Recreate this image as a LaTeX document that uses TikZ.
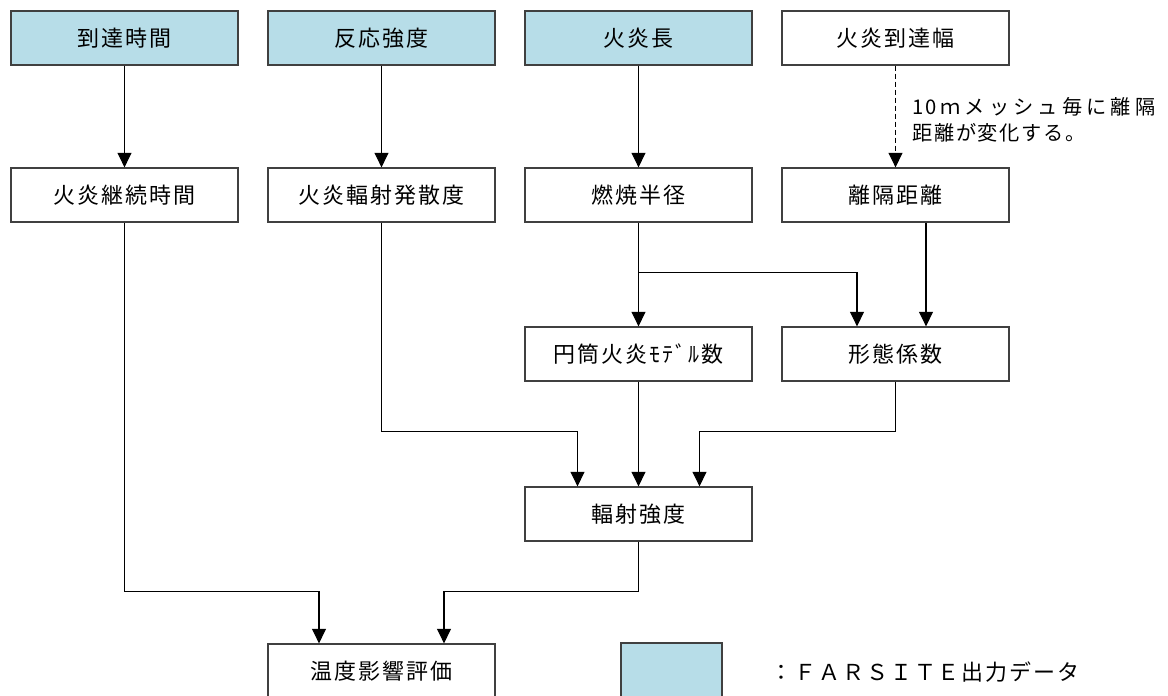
\documentclass[tikz,border=0pt]{standalone}
\usepackage{fontspec}
\usepackage{tikz}
\usetikzlibrary{arrows.meta,calc,positioning}
\newfontfamily\jpfont[LetterSpace=9]{Noto Sans CJK JP}
\newfontfamily\jpnote[LetterSpace=8]{Noto Sans CJK JP}
\definecolor{farsite}{RGB}{183,221,232}
\definecolor{rand}{RGB}{64,64,64}

\begin{document}
\begin{tikzpicture}[
  font=\jpfont\fontsize{12.5pt}{15pt}\selectfont,
  kasten/.style={draw=rand, line width=0.75pt, minimum width=4.54cm,
                 minimum height=1.08cm, inner sep=0pt},
  daten/.style={kasten, fill=farsite},
  pfeil/.style={-{Triangle[length=2.9mm, width=2.8mm]}, line width=0.6pt},
  strich/.style={pfeil, dash pattern=on 1mm off 0.6mm}
]
\useasboundingbox (0,0) rectangle (23.36,13.9);

% ---------- Eingangsdaten (oben) ---------------------------------
\node[daten]  (ankunft)  at (2.49,13.14)  {到達時間};
\node[daten]  (reaktion) at (7.63,13.14)  {反応強度};
\node[daten]  (flamme)   at (12.77,13.14) {火炎長};
\node[kasten] (breite)   at (17.91,13.14) {火炎到達幅};

% ---------- zweite Reihe -----------------------------------------
\node[kasten] (dauer)   at (2.49,10.0)  {火炎継続時間};
\node[kasten] (strahl)  at (7.63,10.0)  {火炎輻射発散度};
\node[kasten] (radius)  at (12.77,10.0) {燃焼半径};
\node[kasten] (abstand) at (17.91,10.0) {離隔距離};

\draw[pfeil]  (ankunft)  -- (dauer);
\draw[pfeil]  (reaktion) -- (strahl);
\draw[pfeil]  (flamme)   -- (radius);
\draw[strich] (breite)   -- (abstand);

\node[anchor=west, inner sep=0pt, align=left,
      font=\jpnote\fontsize{11.5pt}{14.8pt}\selectfont] (hinweis) at (18.24,11.5)
  {\makebox[4.86cm][s]{10\hfill ｍ\hfill メ\hfill ッ\hfill シ\hfill ュ\hfill 毎\hfill に\hfill 離\hfill 隔}\\
   距離が変化する。};

% ---------- dritte Reihe -----------------------------------------
\node[kasten] (zylinder) at (12.77,6.82) {円筒火炎ﾓﾃﾞﾙ数};
\node[kasten] (form)     at (17.91,6.82) {形態係数};

\draw[pfeil] (radius) -- (zylinder);
\draw[pfeil] ([yshift=1.08cm]zylinder.north) -| ([xshift=-0.77cm]form.north);
\draw[pfeil] ([xshift=0.61cm]abstand.south) -- ([xshift=0.61cm]form.north);

% ---------- Strahlungsintensitaet --------------------------------
\node[kasten] (intens) at (12.77,3.62) {輻射強度};

\draw[pfeil] (strahl.south) |- ([xshift=-1.22cm, yshift=1.1cm]intens.north)
  -- ([xshift=-1.22cm]intens.north);
\draw[pfeil] (zylinder) -- (intens);
\draw[pfeil] (form.south) |- ([xshift=1.22cm, yshift=1.1cm]intens.north)
  -- ([xshift=1.22cm]intens.north);

% ---------- Bewertung und Legende --------------------------------
\node[kasten] (bewert) at (7.63,0.48) {温度影響評価};

\draw[pfeil] (dauer.south) |- ([xshift=-1.25cm, yshift=1.04cm]bewert.north)
  -- ([xshift=-1.25cm]bewert.north);
\draw[pfeil] (intens.south) |- ([xshift=1.25cm, yshift=1.04cm]bewert.north)
  -- ([xshift=1.25cm]bewert.north);

\node[daten, minimum width=2.02cm] (legende) at (13.43,0.5) {};
\node[anchor=west, inner sep=0pt] (legtext) at (15.4,0.46) {：ＦＡＲＳＩＴＥ出力データ};

\end{tikzpicture}
\end{document}
